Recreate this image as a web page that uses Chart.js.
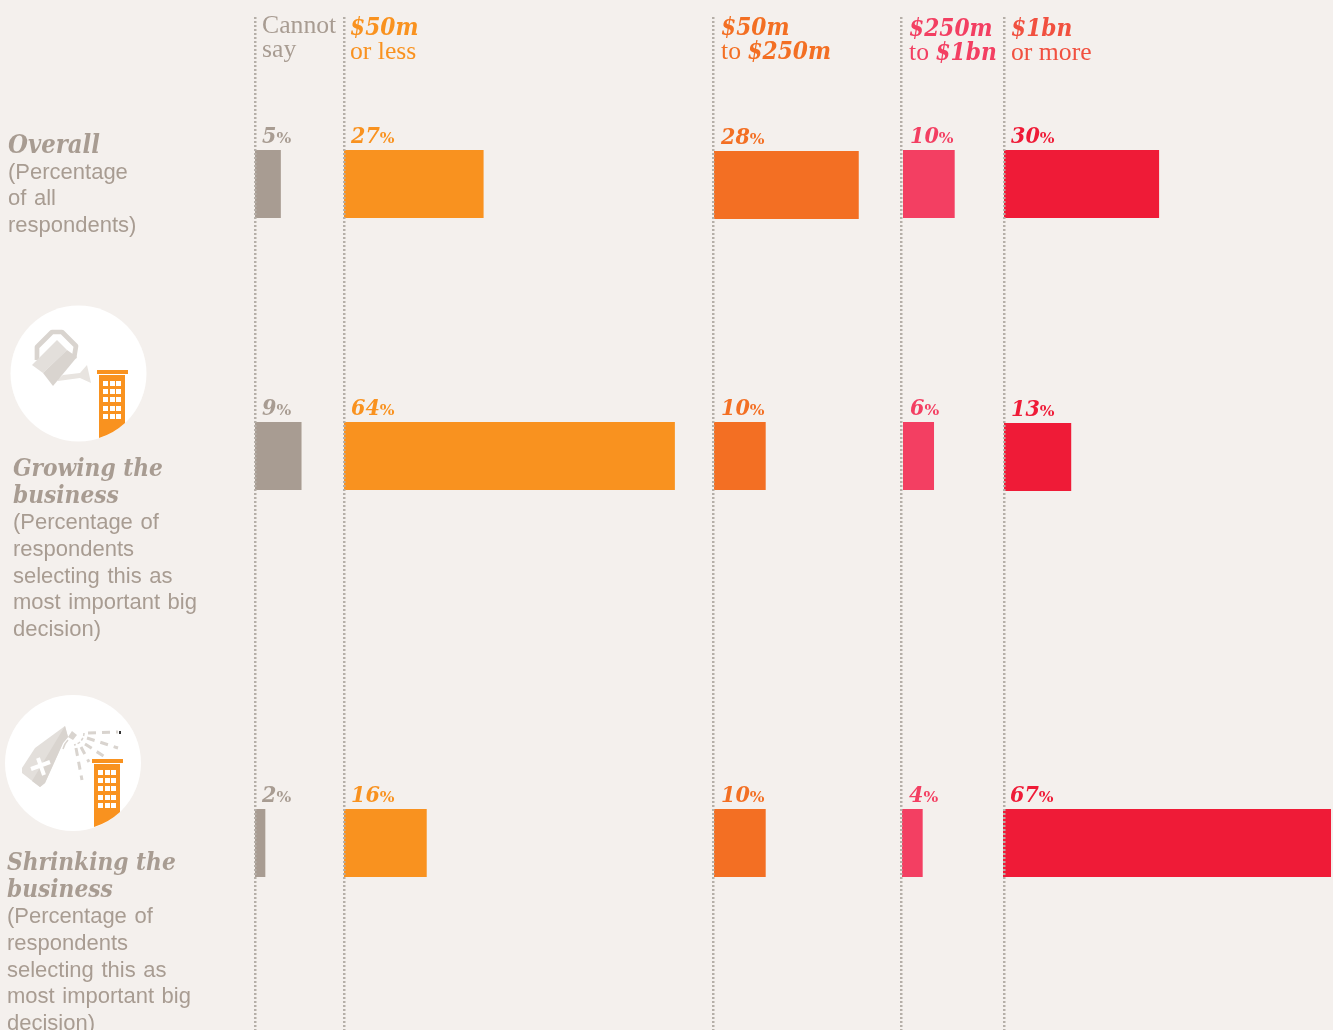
<!DOCTYPE html>
<html>
<head>
<meta charset="utf-8">
<title>Company size by decision</title>
<script src="https://cdn.jsdelivr.net/npm/chart.js@4"></script>
<style>
  html, body { margin: 0; background: #f4f0ed; }
  #page { position: relative; width: 1333px; height: 1030px; overflow: hidden; background: #f4f0ed; }
  #icons, #chart { position: absolute; left: 0; top: 0; }
  .t { position: absolute; white-space: nowrap; }
  .head { font: 25.7px/24px "Liberation Serif", serif; }
  .head b { font: italic bold 24.2px/24px "DejaVu Serif Condensed", "DejaVu Serif", serif; }
  .row { font: 22px/26.65px "Liberation Sans", sans-serif; word-spacing: 1.5px; color: #a89c92; }
  .row b { font: italic bold 24.2px/26.65px "DejaVu Serif Condensed", "DejaVu Serif", serif; display: block; margin-bottom: 1px; word-spacing: 0; }
</style>
</head>
<body>
<div id="page">
  <!-- icons -->
  <svg id="icons" width="1333" height="1030">
    <defs>
      <g id="building">
        <path fill="#f9921f" d="M99 375h26v48a68 68 0 0 1-26 15z"/>
        <rect x="97" y="370" width="31" height="4" fill="#f9921f"/>
        <g fill="#fff">
          <rect x="103" y="381" width="5" height="5"/><rect x="110" y="381" width="5" height="5"/><rect x="116" y="381" width="5" height="5"/>
          <rect x="103" y="389" width="5" height="5"/><rect x="110" y="389" width="5" height="5"/><rect x="116" y="389" width="5" height="5"/>
          <rect x="103" y="397" width="5" height="5"/><rect x="110" y="397" width="5" height="5"/><rect x="116" y="397" width="5" height="5"/>
          <rect x="103" y="406" width="5" height="5"/><rect x="110" y="406" width="5" height="5"/><rect x="116" y="406" width="5" height="5"/>
          <rect x="103" y="414" width="5" height="5"/><rect x="110" y="414" width="5" height="5"/><rect x="116" y="414" width="5" height="5"/>
        </g>
      </g>
    </defs>
    <circle cx="78.5" cy="373.5" r="68" fill="#fff"/>
    <path d="M37 360V347L52 332H62L76 346L74 358" fill="none" stroke="#d9d4cf" stroke-width="4.7" stroke-linejoin="round"/>
    <path fill="#e8e4e0" d="M57 380l6-5 17-2 7-8 4 18-11-5-22 3z"/>
    <path fill="#e3dfdb" d="M32 365l25-25 10 10-24 23z"/>
    <path fill="#d9d4cf" d="M43 373l24-23 10 7-24 29z"/>
    <use href="#building"/>

    <circle cx="73" cy="763" r="68" fill="#fff"/>
    <path fill="#e3dfdb" d="M65 726L35 748 22 768v5l18 14 5-4 18-40 5-6z"/>
    <path fill="#d9d4cf" d="M65 726l3 11-5 6-18 40-5 4-8-6z"/>
    <path fill="#d9d4cf" d="M68 737l4-6 5 4-4 5z"/>
    <path d="M31 769l19-7M38 758l6 17" stroke="#fff" stroke-width="4" fill="none"/>
    <g stroke="#d9d4cf" stroke-width="3" fill="none" stroke-dasharray="8 6">
      <path d="M88 733L118 732"/>
      <path d="M87 738L118 748"/>
      <path d="M85 744L105 757"/>
      <path d="M81 747L89 762"/>
      <path d="M76 748L82 780"/>
    </g>
    <path d="M84 733c0 5-4 11-10 12" stroke="#d9d4cf" stroke-width="1.5" fill="none" stroke-dasharray="3 2"/>
    <path d="M68 740c-3 3-4 5-5 9" stroke="#d9d4cf" stroke-width="1.5" fill="none"/>
    <rect x="119" y="731" width="2" height="3" fill="#333"/>
    <use href="#building" x="-5" y="389"/>
  </svg>

  <canvas id="chart" width="1331" height="1030"></canvas>

  <div class="t head" style="left:262px;top:13px;color:#a89c92">Cannot<br>say</div>
  <div class="t head" style="left:350px;top:15px;color:#f9921f"><b>$50m</b><br>or less</div>
  <div class="t head" style="left:721px;top:15px;color:#f36f23"><b>$50m</b><br>to <b>$250m</b></div>
  <div class="t head" style="left:909px;top:16px;color:#f33f62"><b>$250m</b><br>to <b>$1bn</b></div>
  <div class="t head" style="left:1011px;top:16px;color:#f1503f"><b>$1bn</b><br>or more</div>

  <div class="t row" style="left:8px;top:131px"><b style="font-size:25.4px">Overall</b>(Percentage<br>of all<br>respondents)</div>
  <div class="t row" style="left:13px;top:455px"><b>Growing the<br>business</b>(Percentage of<br>respondents<br>selecting this as<br>most important big<br>decision)</div>
  <div class="t row" style="left:7px;top:849px"><b>Shrinking the<br>business</b>(Percentage of<br>respondents<br>selecting this as<br>most important big<br>decision)</div>
</div>

<script>
// ---- DATA (percent of respondents) ----
const rowNames = ["Overall", "Growing the business", "Shrinking the business"];
const seriesNames = ["Cannot say", "$50m or less", "$50m to $250m", "$250m to $1bn", "$1bn or more"];
const cannotSay = [5, 9, 2];
const under50m = [27, 64, 16];
const from50to250m = [28, 10, 10];
const from250mTo1bn = [10, 6, 4];
const over1bn = [30, 13, 67];

// ---- LAYOUT ----
const values = [cannotSay, under50m, from50to250m, from250mTo1bn, over1bn];
const colours = ["#a89c92", "#f9921f", "#f36f23", "#f33f62", "#ef1b37"];
const pxPerPct = 5.17;
const rowCentres = [184, 456, 843];
const barStarts = [255, 344, 714, 903, 1004];
const ruleAt = [255, 344, 713, 901, 1004];
// the source art is a pixel out in a few places: [column, row, dx, dy]
const nudges = [[2, 0, 0, 1], [4, 1, 0, 1], [3, 2, -1, 0], [4, 2, -1, 0]];

const toUnits = px => px / pxPerPct;
const nudge = (c, r) => nudges.find(n => n[0] === c && n[1] === r) || [c, r, 0, 0];

const datasets = values.map((vals, c) => ({
  label: seriesNames[c],
  data: vals.map((v, r) => {
    const start = toUnits(barStarts[c] + nudge(c, r)[2]);
    return { x: [start, start + v], y: rowCentres[r] + nudge(c, r)[3] };
  }),
  backgroundColor: colours[c],
  barThickness: 68,
  grouped: false,
  inflateAmount: 0
}));

// percent labels above each bar, number large and % small
const valueLabels = {
  id: "valueLabels",
  afterDatasetsDraw(chart) {
    const ctx = chart.ctx;
    ctx.save();
    ctx.textBaseline = "alphabetic";
    chart.data.datasets.forEach((ds, c) => {
      ctx.fillStyle = colours[c];
      chart.getDatasetMeta(c).data.forEach((bar, r) => {
        const x = bar.base + 7;
        const y = bar.y - bar.height / 2 - 7;
        const num = String(values[c][r]);
        ctx.font = 'italic bold 23px "DejaVu Serif Condensed"';
        ctx.fillText(num, x, y);
        const w = ctx.measureText(num).width;
        ctx.font = 'bold 15.5px "DejaVu Serif"';
        ctx.fillText("%", x + w, y);
      });
    });
    ctx.restore();
  }
};

new Chart(document.getElementById("chart"), {
  type: "bar",
  data: { labels: rowNames, datasets },
  plugins: [valueLabels],
  options: {
    indexAxis: "y",
    responsive: false,
    animation: false,
    layout: { padding: { top: 17 } },
    plugins: { legend: { display: false }, tooltip: { enabled: false } },
    scales: {
      x: {
        type: "linear",
        min: 0,
        max: toUnits(1331),
        afterBuildTicks: ax => { ax.ticks = ruleAt.map(px => ({ value: toUnits(px) })); },
        afterFit: ax => { ax.height = 0; },
        ticks: { display: false, autoSkip: false },
        grid: { color: "#b5afa8", lineWidth: 2.5, drawTicks: false, z: 1 },
        border: { display: false, dash: [2, 2] }
      },
      y: {
        type: "linear",
        display: false,
        offset: false,
        grid: { offset: false },
        reverse: true,
        min: 17,
        max: 1030
      }
    }
  }
});
</script>
</body>
</html>
